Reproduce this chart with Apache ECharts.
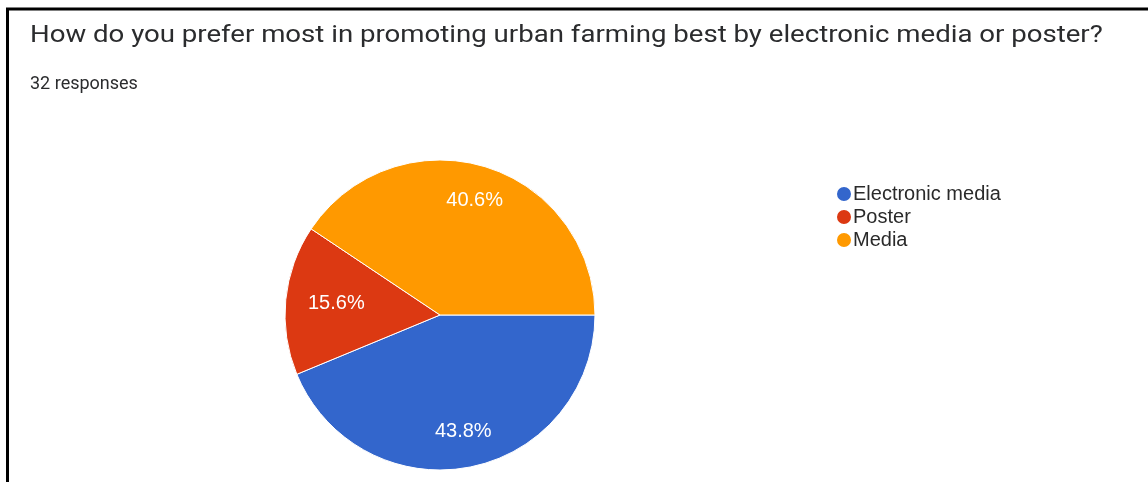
<!DOCTYPE html>
<html>
<head>
<meta charset="utf-8">
<style>
  html, body { margin: 0; padding: 0; background: #ffffff; }
  #chart { width: 1148px; height: 482px; }
</style>
<script src="https://cdn.jsdelivr.net/npm/echarts@6/dist/echarts.min.js"></script>
</head>
<body>
<div id="chart"></div>
<script>
// Survey question and response data
const questionText = 'How do you prefer most in promoting urban farming best by electronic media or poster?';
const responseCount = 32;
const categories = ['Electronic media', 'Poster', 'Media'];
const counts = [14, 5, 13];
const sliceColors = ['#3366cc', '#dc3912', '#ff9900'];

const pieData = categories.map((name, i) => ({ name, value: counts[i] }));

// the narrow Poster slice keeps its label a little closer to the centre
const labelData = pieData.map(d => d.name === 'Poster'
  ? Object.assign({}, d, { label: { padding: [8, 0, 0, 30] } })
  : Object.assign({}, d, { label: { padding: [8, 0, 0, 0] } }));

const chart = echarts.init(document.getElementById('chart'));

const pieCenter = [440, 315];
const pieRadius = 155;

chart.setOption({
  animation: false,
  color: sliceColors,
  legend: {
    data: categories,
    orient: 'vertical',
    left: 830,
    top: 179,
    icon: 'circle',
    itemWidth: 16,
    itemHeight: 16,
    itemGap: 3,
    textStyle: { fontFamily: 'Liberation Sans', fontSize: 20, color: '#2a2a2a', padding: [0, 0, 0, -4] }
  },
  graphic: [
    { type: 'line', shape: { x1: 6, y1: 9, x2: 1148, y2: 9 }, style: { stroke: '#000', lineWidth: 3 } },
    { type: 'line', shape: { x1: 7.5, y1: 8, x2: 7.5, y2: 482 }, style: { stroke: '#000', lineWidth: 3 } },
    {
      type: 'text', x: 30, y: 36, scaleX: 1.15,
      style: {
        text: questionText, fill: '#2b2c2e',
        font: '24px Roboto', textVerticalAlign: 'middle'
      }
    },
    {
      type: 'text', x: 30, y: 84,
      style: {
        text: responseCount + ' responses', fill: '#2b2c2e',
        font: '18px Roboto', textVerticalAlign: 'middle'
      }
    }
  ],
  series: [
    {
      type: 'pie',
      center: pieCenter,
      radius: pieRadius,
      startAngle: 0,
      clockwise: true,
      silent: true,
      data: pieData,
      itemStyle: { borderColor: '#ffffff', borderWidth: 1 },
      label: { show: false },
      labelLine: { show: false }
    },
    {
      // transparent ring used only to place percentage labels further out than mid-radius
      type: 'pie',
      center: pieCenter,
      radius: pieRadius * 1.5,
      startAngle: 0,
      clockwise: true,
      silent: true,
      data: labelData,
      itemStyle: { color: 'rgba(0,0,0,0)' },
      label: {
        show: true,
        position: 'inside',
        formatter: p => p.percent.toFixed(1) + '%',
        fontFamily: 'Liberation Sans',
        fontSize: 20,
        color: '#ffffff'
      },
      labelLine: { show: false }
    }
  ]
});
</script>
</body>
</html>
